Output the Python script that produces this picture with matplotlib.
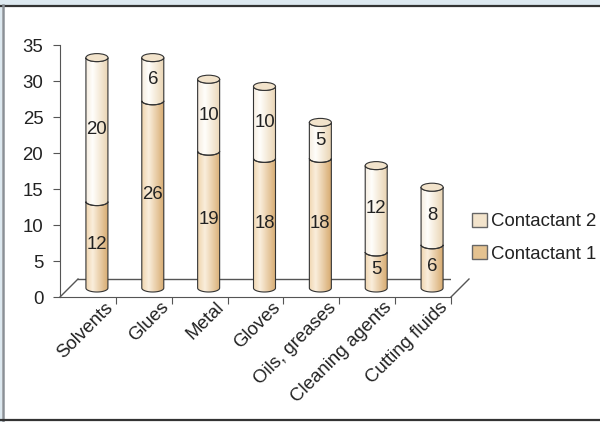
import numpy as np
import matplotlib
matplotlib.use("Agg")
import matplotlib.pyplot as plt
import matplotlib.transforms as mtransforms
from matplotlib.patches import Polygon, Ellipse, Patch, Rectangle
from matplotlib.colors import LinearSegmentedColormap
from matplotlib.lines import Line2D

plt.rcParams['font.family'] = ['Liberation Sans', 'DejaVu Sans']

# データ
categories = ["Solvents", "Glues", "Metal", "Gloves", "Oils, greases",
              "Cleaning agents", "Cutting fluids"]
contactant1 = [12, 26, 19, 18, 18, 5, 6]
contactant2 = [20, 6, 10, 10, 5, 12, 8]
series_names = ["Contactant 1", "Contactant 2"]

TXT = "#222222"
EDGE = "#333333"
FS = 13.4

# 円柱のグラデーション (左 -> 右)
cmap1 = LinearSegmentedColormap.from_list(
    "c1", [(0, "#F0D6B0"), (0.3, "#FAEEDC"), (1, "#D8AC72")])
cmap2 = LinearSegmentedColormap.from_list(
    "c2", [(0, "#F6EDE0"), (0.3, "#FFFEFB"), (1, "#EAD5B4")])
cap_color = "#F2E3CB"
legend_colors = ["#E4C290", "#F3E4CC"]

fig = plt.figure(figsize=(6, 4.22), dpi=100)
ax = fig.add_axes([60 / 600, 1 - 297 / 422, 391 / 600, 252 / 422])
ax.set_xlim(0, 7)
ax.set_ylim(0, 35)
ax.patch.set_visible(False)

for s in ["top", "right"]:
    ax.spines[s].set_visible(False)
ax.spines["left"].set_color("#555555")
ax.spines["bottom"].set_color("#555555")
ax.set_yticks(range(0, 36, 5))
ax.set_xticks(range(1, 8))
ax.set_xticklabels([])
ax.tick_params(axis="both", direction="out", length=5, color="#555555",
               labelsize=FS, labelcolor=TXT, pad=7)

# 奥行きのオフセット
def shifted(dx_px, dy_px):
    return ax.transData + mtransforms.ScaledTranslation(
        dx_px / 100, dy_px / 100, fig.dpi_scale_trans)

floor_t = shifted(18, 18)
bar_t = shifted(9, 9)

# 床
ax.plot([0, 7], [0, 0], color="#555555", lw=1, transform=floor_t, zorder=1)
for x0 in (0, 7):
    p0 = ax.transData.transform((x0, 0))
    p1 = floor_t.transform((x0, 0))
    fig.add_artist(Line2D([p0[0] / 600, p1[0] / 600],
                          [p0[1] / 422, p1[1] / 422],
                          color="#555555", lw=1, zorder=1))

# 円柱の寸法 (データ単位)
px_x = 391 / 7
px_y = 252 / 35
w = 22 / px_x
rx = w / 2
ry = 4 / px_y
th = np.linspace(np.pi, 2 * np.pi, 40)


def lower_arc(cx, y):
    return np.column_stack([cx + rx * np.cos(th), y + ry * np.sin(th)])


def draw_segment(cx, y0, y1, cmap):
    bottom = lower_arc(cx, y0)
    top = lower_arc(cx, y1)[::-1]
    pts = np.vstack([bottom, top])
    poly = Polygon(pts, closed=True, facecolor="none", edgecolor=EDGE,
                   lw=0.8, transform=bar_t, zorder=4)
    ax.add_patch(poly)
    grad = np.linspace(0, 1, 64).reshape(1, -1)
    im = ax.imshow(grad, cmap=cmap, aspect="auto",
                   extent=(cx - rx, cx + rx, y0 - ry, y1), transform=bar_t,
                   zorder=3, interpolation="bilinear")
    im.set_clip_path(poly)


for i, (a, b) in enumerate(zip(contactant1, contactant2)):
    cx = i + 0.5
    draw_segment(cx, 0, a, cmap1)
    draw_segment(cx, a, a + b, cmap2)
    ax.add_patch(Ellipse((cx, a + b), 2 * rx, 2 * ry, facecolor=cap_color,
                         edgecolor=EDGE, lw=0.8, transform=bar_t, zorder=5))
    ax.text(cx, a / 2, str(a), ha="center", va="center", fontsize=FS,
            color=TXT, transform=bar_t, zorder=6)
    ax.text(cx, a + b / 2, str(b), ha="center", va="center", fontsize=FS,
            color=TXT, transform=bar_t, zorder=6)

# カテゴリラベル
for i, name in enumerate(categories):
    ax.text(i + 0.9, -1.1, name, rotation=45, ha="right", va="center",
            rotation_mode="anchor", fontsize=FS, color=TXT, clip_on=False)

# 凡例
handles = [Patch(facecolor=legend_colors[1], edgecolor="#666666"),
           Patch(facecolor=legend_colors[0], edgecolor="#666666")]
fig.legend(handles, [series_names[1], series_names[0]], loc="upper left",
           bbox_to_anchor=(455 / 600, 1 - 196 / 422), frameon=False,
           fontsize=FS, handlelength=0.8, handleheight=0.8,
           handletextpad=0.25, labelspacing=0.8, labelcolor=TXT)

# 外枠
fig.add_artist(Rectangle((0, 1 - 5 / 422), 1, 5 / 422, facecolor="#DDE9F0",
                         edgecolor="none", transform=fig.transFigure))
fig.add_artist(Rectangle((0, 0), 2 / 600, 1, facecolor="#DDE9F0",
                         edgecolor="none", transform=fig.transFigure))
fig.add_artist(Line2D([0, 1], [1 - 5.5 / 422] * 2, color="#333333", lw=1.6))
fig.add_artist(Line2D([2.8 / 600] * 2, [0, 1 - 5 / 422], color="#8A9096", lw=1.8))
fig.add_artist(Line2D([0, 1], [1.8 / 422] * 2, color="#333333", lw=1.6))

fig.savefig("out.png", dpi=100)
